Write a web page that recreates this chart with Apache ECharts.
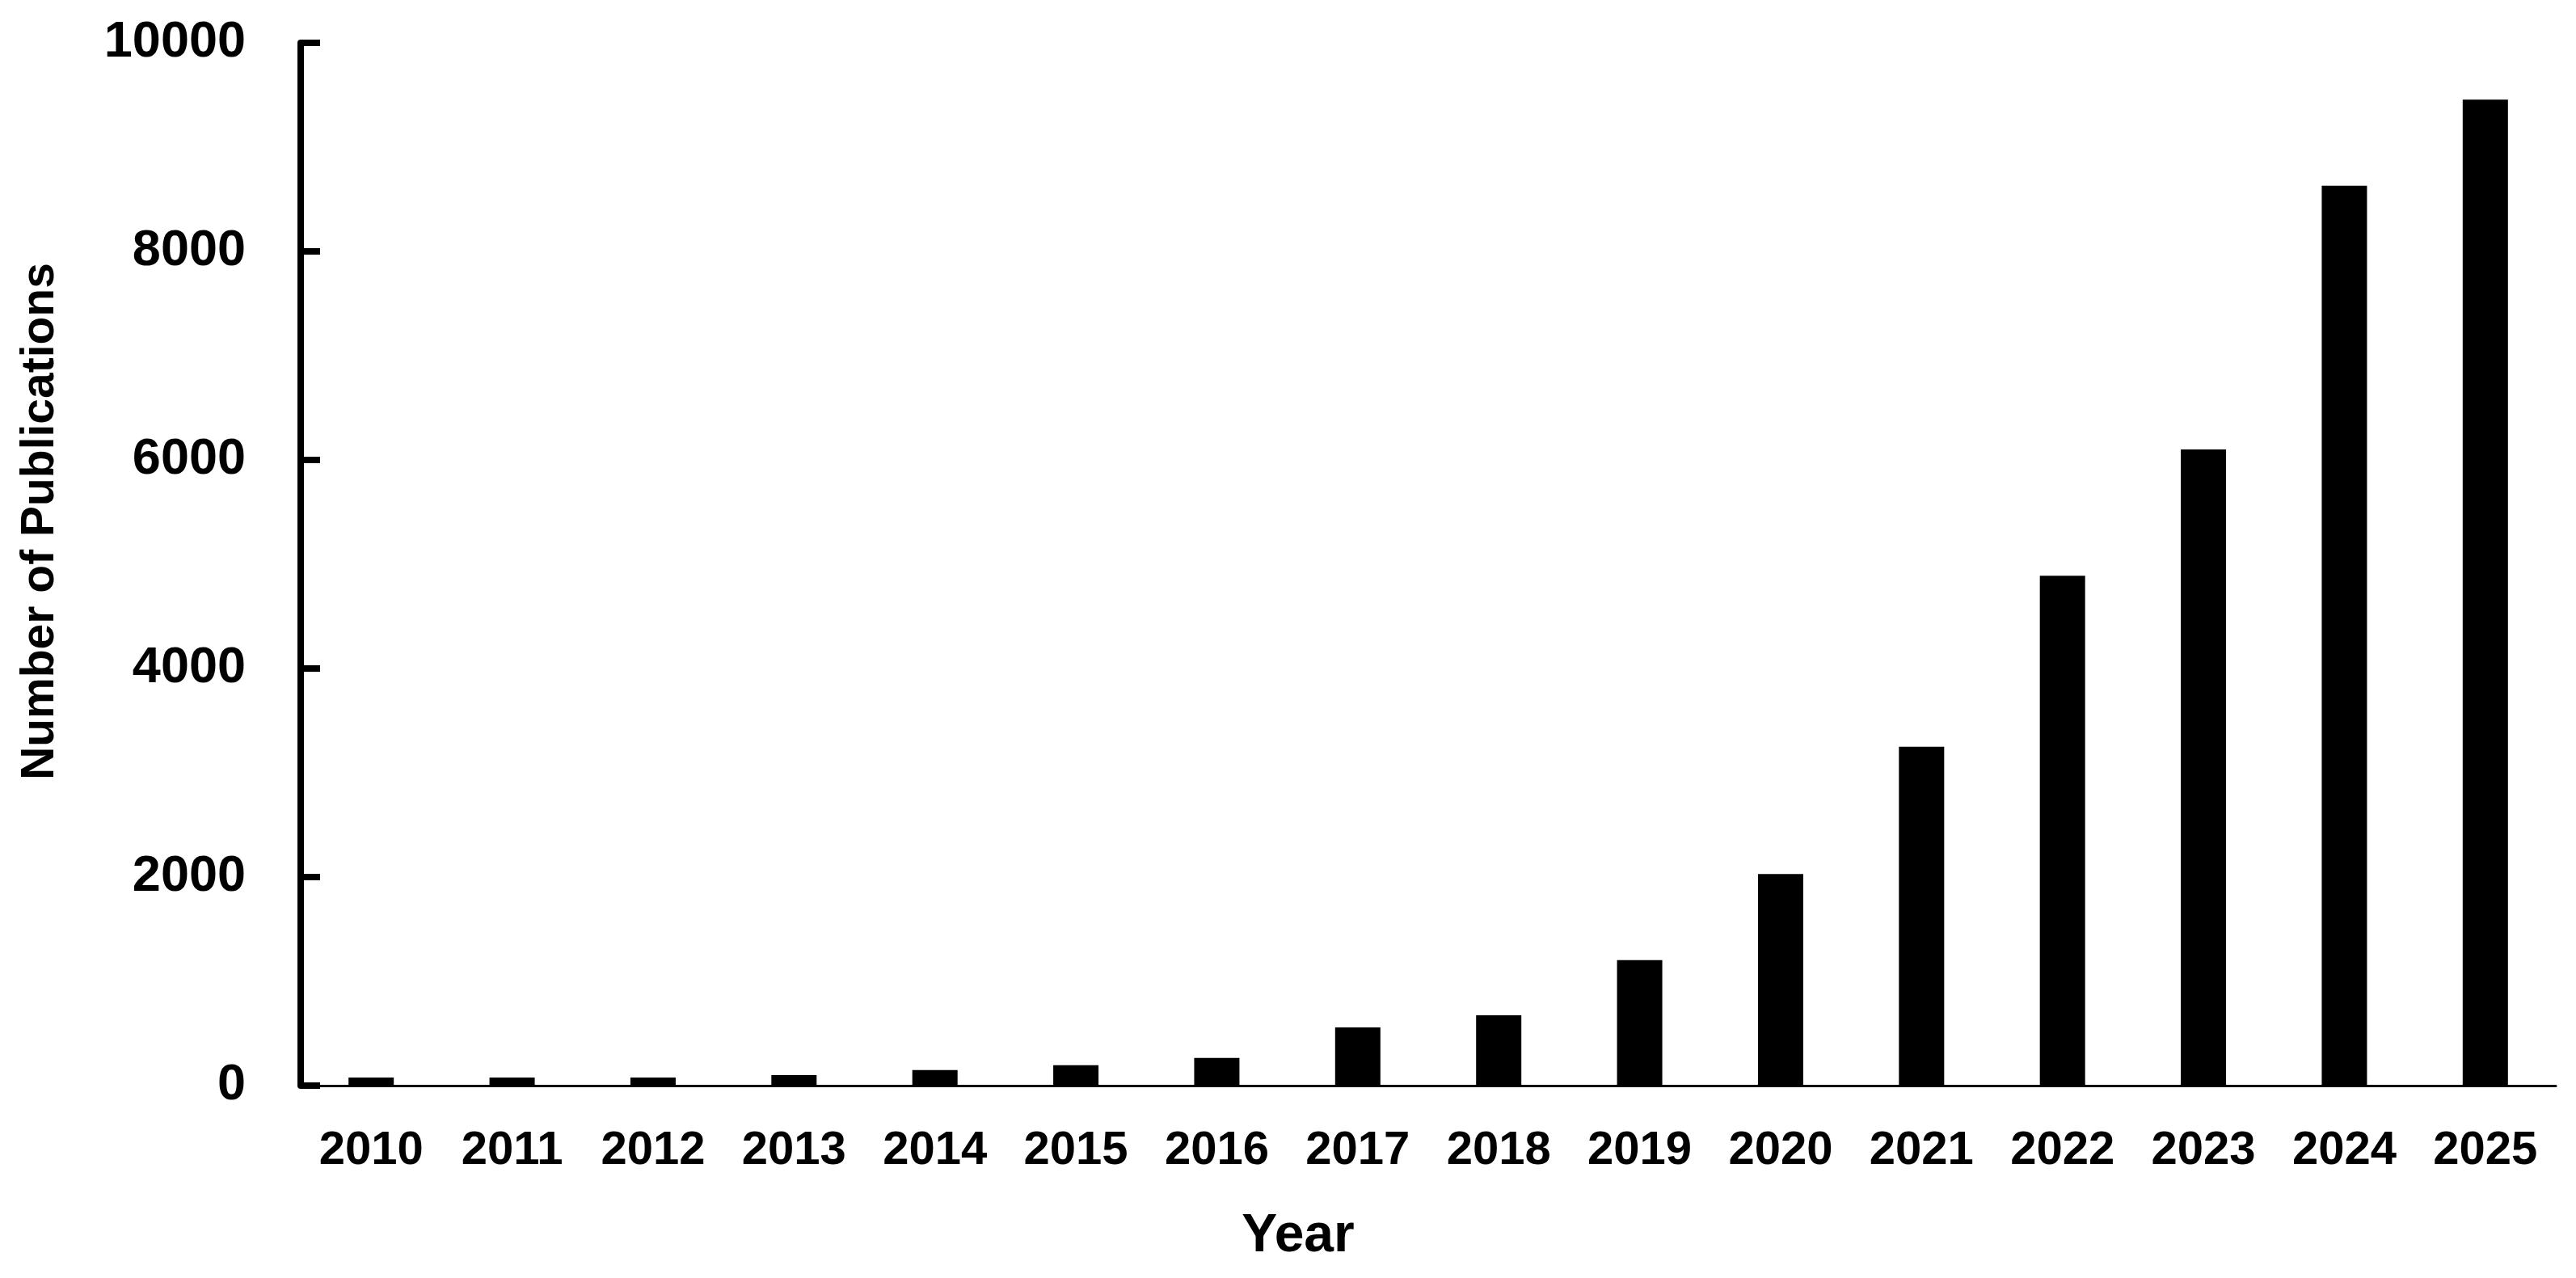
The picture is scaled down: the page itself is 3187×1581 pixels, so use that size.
<!DOCTYPE html>
<html>
<head>
<meta charset="utf-8">
<script src="https://cdn.jsdelivr.net/npm/echarts@6/dist/echarts.min.js"></script>
<style>
html,body{margin:0;padding:0;background:#fff;}
#chart{width:3187px;height:1581px;}
</style>
</head>
<body>
<div id="chart"></div>
<script>
const years = ['2010','2011','2012','2013','2014','2015','2016','2017','2018','2019','2020','2021','2022','2023','2024','2025'];
const publications = [78, 78, 78, 100, 150, 195, 265, 558, 675, 1203, 2030, 3250, 4890, 6100, 8630, 9455];
const yTicks = [0, 2000, 4000, 6000, 8000, 10000];
const xTitle = 'Year';
const yTitle = 'Number of Publications';

const FONT = '"Liberation Sans", Arial, sans-serif';
const chart = echarts.init(document.getElementById('chart'), null, {renderer: 'canvas'});
chart.setOption({
  backgroundColor: '#ffffff',
  animation: false,
  grid: {left: 372, right: 25, top: 53, bottom: 238, containLabel: false},
  xAxis: {
    type: 'category',
    data: years,
    boundaryGap: true,
    axisLine: {show: true, lineStyle: {color: '#000', width: 3}},
    axisTick: {show: false},
    axisLabel: {color: '#000', fontFamily: FONT, fontWeight: 'bold', fontSize: 58, margin: 52, interval: 0}
  },
  yAxis: {
    type: 'value',
    min: yTicks[0],
    max: yTicks[yTicks.length - 1],
    interval: yTicks[1] - yTicks[0],
    splitLine: {show: false},
    axisLine: {show: true, lineStyle: {color: '#000', width: 8}},
    axisTick: {show: true, inside: true, length: 24, lineStyle: {color: '#000', width: 8}},
    axisLabel: {color: '#000', fontFamily: FONT, fontWeight: 'bold', fontSize: 63, margin: 68,
      formatter: function (v) { return String(v); }}
  },
  graphic: [
    {type: 'text', x: 1606, y: 1530, style: {text: xTitle, fill: '#000', font: 'bold 66px ' + FONT, align: 'center', verticalAlign: 'middle'}},
    {type: 'text', x: 50, y: 645, rotation: Math.PI / 2, style: {text: yTitle, fill: '#000', font: 'bold 57px ' + FONT, align: 'center', verticalAlign: 'middle'}}
  ],
  series: [{
    type: 'bar',
    data: publications,
    barWidth: 56,
    itemStyle: {color: '#000'}
  }]
});
</script>
</body>
</html>
